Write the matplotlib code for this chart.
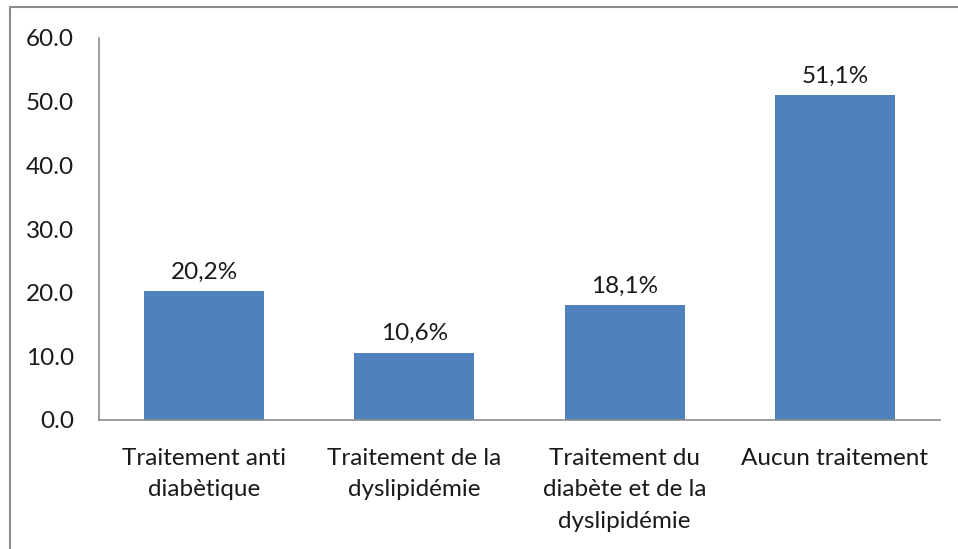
import matplotlib
matplotlib.use("Agg")
import matplotlib.pyplot as plt
from matplotlib.patches import Rectangle

# Data
categories = ["Traitement anti\ndiabètique",
              "Traitement de la\ndyslipidémie",
              "Traitement du\ndiabète et de la\ndyslipidémie",
              "Aucun traitement"]
values = [20.2, 10.6, 18.1, 51.1]
y_ticks = [0, 10, 20, 30, 40, 50, 60]

plt.rcParams['font.family'] = ['Lato', 'DejaVu Sans']
fs = 17.5

fig = plt.figure(figsize=(9.58, 5.49), dpi=100)
ax = fig.add_axes([99 / 958, 1 - 420 / 549, 841 / 958, 382 / 549])

x = range(len(categories))
ax.bar(x, values, width=0.57, color="#4F81BD")
for xi, v in zip(x, values):
    ax.text(xi, v + 1.3, f"{v:.1f}".replace(".", ",") + "%",
            ha="center", va="bottom", fontsize=fs, color="#1a1a1a")

ax.set_xlim(-0.5, len(categories) - 0.5)
ax.set_ylim(0, 60)
ax.set_yticks(y_ticks)
ax.set_yticklabels([f"{t:.1f}" for t in y_ticks])
ax.set_xticks(list(x))
ax.set_xticklabels(categories, linespacing=1.62)
ax.tick_params(axis="both", length=0, labelsize=fs, labelcolor="#1a1a1a")
ax.tick_params(axis="y", pad=18)
ax.tick_params(axis="x", pad=20)
for side in ["top", "right"]:
    ax.spines[side].set_visible(False)
for side in ["left", "bottom"]:
    ax.spines[side].set_color("#8c8c8c")
    ax.spines[side].set_linewidth(1.2)

# outer frame, cut at right and bottom like the reference
fig.patches.append(Rectangle((10 / 958, -0.05), 1.0, 1.05 - 7 / 549,
                             transform=fig.transFigure, fill=False,
                             edgecolor="#8c8c8c", linewidth=1.5))

fig.savefig("out.png", dpi=100)
